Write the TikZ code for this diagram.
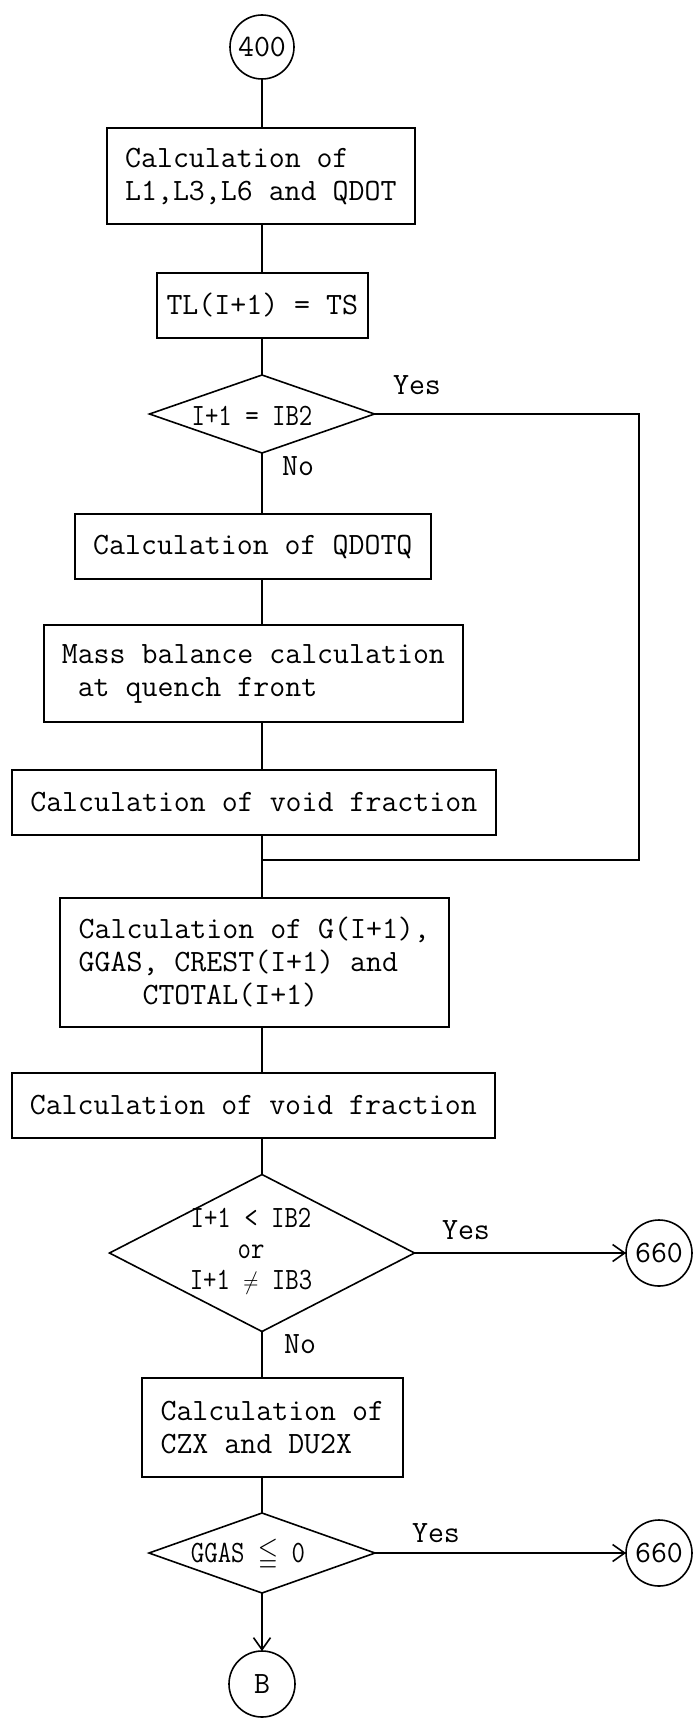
\documentclass[tikz,border=0pt]{standalone}
\usepackage{fontspec}
\usepackage{amssymb}
\usetikzlibrary{shapes.geometric,arrows.meta}
% typewriter face used throughout the chart
\newcommand\tx{\ttfamily\fontsize{31}{33}\selectfont}
% condensed setting for the decision texts
\newcommand\narrow[1]{\scalebox{0.84}[1]{#1}}
\begin{document}
\begin{tikzpicture}[x=1pt,y=-1pt,
  box/.style={draw,line width=1.6pt,rectangle,anchor=west,inner xsep=18pt,inner ysep=0pt,align=left,font=\tx},
  dia/.style={draw,diamond,line width=1.6pt,inner sep=0pt,outer sep=0pt},
  conn/.style={draw,circle,line width=1.6pt,inner sep=0pt,outer sep=0pt,minimum size=64pt,font=\tx},
  lbl/.style={inner sep=0pt,font=\tx},
  link/.style={line width=1.6pt},
  arr/.style={link,-{Straight Barb[length=12pt,width=17pt]}}]
\fill[white] (0,0) rectangle (693,1718);
\useasboundingbox (0,0) rectangle (693,1718);

% process steps
\node[conn] (c400) at (262,47) {400};
\node[box,minimum width=308pt,minimum height=96pt] (b1) at (106,176) {Calculation of\\L1,L3,L6 and QDOT};
\node[box,align=center,inner xsep=0pt,minimum width=211pt,minimum height=65pt] (b2) at (156,305.5) {TL(I+1) = TS};
\node[dia,minimum width=225pt,minimum height=78pt] (d1) at (262,414) {};
\node[lbl] (t1) at (252,416) {\narrow{I+1 = IB2}};
\node[box,minimum width=356pt,minimum height=65pt] (b3) at (74,546.5) {Calculation of QDOTQ};
\node[box,minimum width=419pt,minimum height=97pt] (b4) at (43,673.5) {Mass balance calculation\\~at quench front};
\node[box,minimum width=484pt,minimum height=65pt] (b5) at (11,802.5) {Calculation of void fraction};
\coordinate (jn) at (262,860);
\coordinate (rt) at (639,860);
\node[box,minimum width=389pt,minimum height=129pt] (b6) at (59,962.5) {Calculation of G(I+1),\\GGAS, CREST(I+1) and\\~~~~CTOTAL(I+1)};
\node[box,minimum width=483pt,minimum height=65pt] (b7) at (11,1105.5) {Calculation of void fraction};
\node[dia,minimum width=305pt,minimum height=157pt] (d2) at (262,1253) {};
\node[lbl,align=center,font=\ttfamily\fontsize{31}{31}\selectfont] (t2) at (251,1251)
  {\narrow{I+1 < IB2}\\\narrow{or}\\\narrow{I+1 $\neq$ IB3}};
\node[conn,minimum size=66pt] (c660a) at (659,1253) {660};
\node[box,minimum width=261pt,minimum height=99pt] (b8) at (141,1427.5) {Calculation of\\CZX and DU2X};
\node[dia,minimum width=226pt,minimum height=80pt] (d3) at (262,1553) {};
\node[lbl] (t3) at (248,1555) {\narrow{GGAS $\leqq$ 0}};
\node[conn,minimum size=66pt] (c660b) at (659,1553) {660};
\node[conn,minimum size=66pt] (cB) at (262,1684) {B};

% branch labels
\node[lbl] (y1) at (417,385) {Yes};
\node[lbl] (n1) at (298,466) {No};
\node[lbl] (y2) at (466,1230) {Yes};
\node[lbl] (n2) at (300,1344) {No};
\node[lbl] (y3) at (436,1533) {Yes};

% main flow
\draw[link] (c400.south) -- (c400.south |- b1.north);
\draw[link] (b1.south -| d1) -- (b2.north -| d1);
\draw[link] (b2.south -| d1) -- (d1.north);
\draw[link] (d1.south) -- (b3.north -| d1);
\draw[link] (b3.south -| d1) -- (b4.north -| d1);
\draw[link] (b4.south -| d1) -- (b5.north -| d1);
\draw[link] (b5.south -| d1) -- (jn) -- (b6.north -| jn);
\draw[link] (d1.east) -| (rt) -- (jn);
\draw[link] (b6.south -| d2) -- (b7.north -| d2);
\draw[link] (b7.south -| d2) -- (d2.north);
\draw[arr] (d2.east) -- (c660a.west);
\draw[link] (d2.south) -- (b8.north -| d2);
\draw[link] (b8.south -| d3) -- (d3.north);
\draw[arr] (d3.east) -- (c660b.west);
\draw[arr] (d3.south) -- (cB.north);
\end{tikzpicture}
\end{document}
